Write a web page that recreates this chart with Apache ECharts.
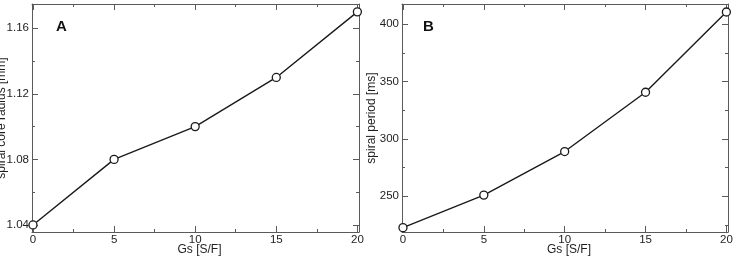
<!DOCTYPE html>
<html>
<head>
<meta charset="utf-8">
<script src="https://cdn.jsdelivr.net/npm/echarts@6/dist/echarts.min.js"></script>
<style>
html,body{margin:0;padding:0;background:#fff;}
#chart{width:734px;height:258px;}
</style>
</head>
<body>
<div id="chart"></div>
<script>
// ---- data ----
const gs = [0, 5, 10, 15, 20];
const radiusA = [1.04, 1.08, 1.10, 1.13, 1.17];
const periodB = [222.6, 251, 289, 340.7, 410.7];

const xTicks = [0, 5, 10, 15, 20];
const xMinorTicks = [2.5, 7.5, 12.5, 17.5];
const yTicksA = [1.04, 1.08, 1.12, 1.16];
const yMinorTicksA = [1.06, 1.10, 1.14];
const yTicksB = [250, 300, 350, 400];
const yMinorTicksB = [225, 275, 325, 375];

const xTitle = 'Gs [S/F]';
const yTitleA = 'spiral core radius [mm]';
const yTitleB = 'spiral period [ms]';
const panelLabels = ['A', 'B'];

// ---- styling / layout ----
const FONT = 'Liberation Sans, Arial, sans-serif';
const AXIS_COLOR = '#5a5a5a';
const TEXT_COLOR = '#1e1e1e';

const grids = [
  {left: 32, top: 4, width: 327, height: 228},
  {left: 402, top: 4, width: 326, height: 228}
];

const xRange = {min: -0.06, max: 20.1};
const yRanges = [{min: 1.0357, max: 1.1748}, {min: 218.8, max: 417.7}];

const xAxes = [], yAxes = [], series = [];

function tickAxis(base, position, ticks, len, withLine, labelCfg, nameCfg) {
  return Object.assign({
    type: 'value',
    position: position,
    scale: true,
    nameMoveOverlap: false,
    splitLine: {show: false},
    axisLine: {show: withLine, onZero: false, lineStyle: {color: AXIS_COLOR, width: 1}},
    axisTick: {show: true, inside: true, length: len, customValues: ticks, lineStyle: {color: AXIS_COLOR, width: 1}},
    axisLabel: labelCfg || {show: false}
  }, base, nameCfg || {});
}

grids.forEach((g, gi) => {
  const yr = yRanges[gi];
  const yMaj = gi === 0 ? yTicksA : yTicksB;
  const yMin = gi === 0 ? yMinorTicksA : yMinorTicksB;
  const xBase = {gridIndex: gi, min: xRange.min, max: xRange.max};
  const yBase = {gridIndex: gi, min: yr.min, max: yr.max};

  const xMainIdx = xAxes.length;
  xAxes.push(tickAxis(xBase, 'bottom', xTicks, 6, true,
    {show: true, customValues: xTicks, fontSize: 11.5, color: TEXT_COLOR, fontFamily: FONT, margin: 2},
    {name: xTitle, nameLocation: 'middle', nameGap: 12,
     nameTextStyle: {fontSize: 12, color: TEXT_COLOR, fontFamily: FONT, padding: [0, 0, 0, 8]}}));
  xAxes.push(tickAxis(xBase, 'bottom', xMinorTicks, 3, false));
  xAxes.push(tickAxis(xBase, 'top', xTicks, 6, true));
  xAxes.push(tickAxis(xBase, 'top', xMinorTicks, 3, false));

  const yMainIdx = yAxes.length;
  yAxes.push(tickAxis(yBase, 'left', yMaj, 6, true,
    {show: true, customValues: yMaj, fontSize: 11.5, color: TEXT_COLOR, fontFamily: FONT, margin: 3,
     formatter: v => gi === 0 ? v.toFixed(2) : String(Math.round(v))},
    {name: gi === 0 ? yTitleA : yTitleB, nameLocation: 'middle', nameGap: 24,
     nameTextStyle: {fontSize: 12, color: TEXT_COLOR, fontFamily: FONT}}));
  yAxes.push(tickAxis(yBase, 'left', yMin, 3, false));
  yAxes.push(tickAxis(yBase, 'right', yMaj, 6, true));
  yAxes.push(tickAxis(yBase, 'right', yMin, 3, false));

  const vals = gi === 0 ? radiusA : periodB;
  series.push({
    type: 'line',
    xAxisIndex: xMainIdx,
    yAxisIndex: yMainIdx,
    data: gs.map((x, i) => [x, vals[i]]),
    symbol: 'circle',
    symbolSize: 8,
    showAllSymbol: true,
    lineStyle: {color: '#1a1a1a', width: 1.4},
    itemStyle: {color: '#ffffff', borderColor: '#1a1a1a', borderWidth: 1.3},
    animation: false,
    z: 3
  });
});

const chart = echarts.init(document.getElementById('chart'), null, {renderer: 'canvas'});
chart.setOption({
  animation: false,
  backgroundColor: '#ffffff',
  grid: grids.map(g => Object.assign({containLabel: false, outerBoundsMode: 'none'}, g)),
  xAxis: xAxes,
  yAxis: yAxes,
  series: series,
  graphic: [
    {type: 'text', left: 56, top: 19, style: {text: panelLabels[0], font: 'bold 15px ' + FONT, fill: '#111'}},
    {type: 'text', left: 423, top: 19, style: {text: panelLabels[1], font: 'bold 15px ' + FONT, fill: '#111'}}
  ]
});
</script>
</body>
</html>
